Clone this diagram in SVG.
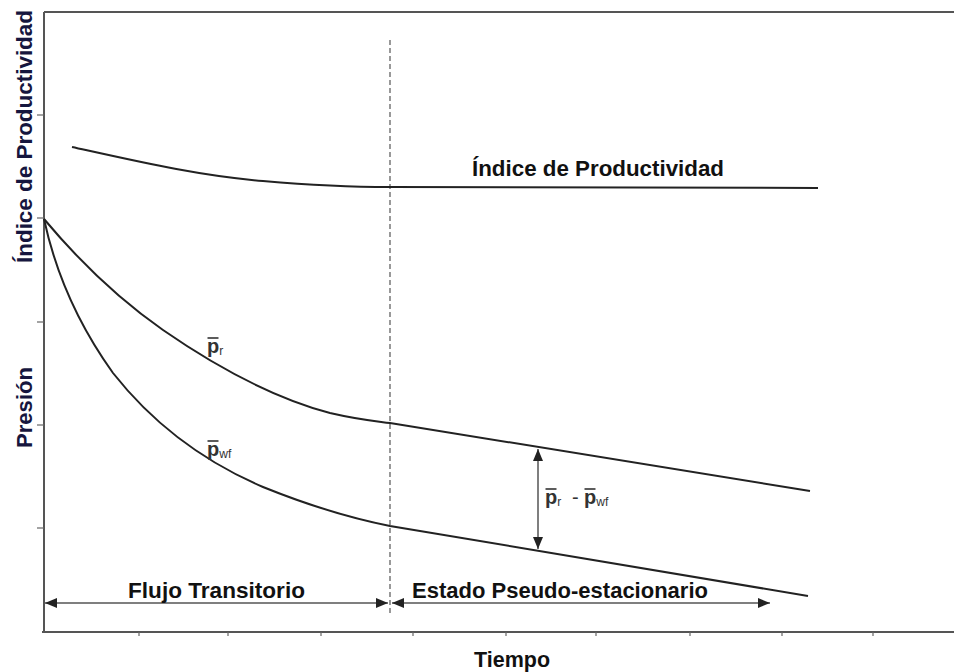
<svg xmlns="http://www.w3.org/2000/svg" width="954" height="672" viewBox="0 0 954 672">
  <style>
    .axis { stroke: #555; stroke-width: 2; fill: none; }
    .tick { stroke: #666; stroke-width: 1.2; fill: none; }
    .curve { stroke: #222; stroke-width: 2; fill: none; }
    .dash { stroke: #555; stroke-width: 1.2; stroke-dasharray: 5 3; fill: none; }
    .arr { stroke: #555; stroke-width: 1.5; fill: none; }
    .bar { stroke: #333; stroke-width: 1.6; }
    .lbl { font-family: "Liberation Sans", Arial, sans-serif; font-weight: bold; font-size: 22px; fill: #111; }
    .ylbl { font-family: "Liberation Sans", Arial, sans-serif; font-weight: bold; font-size: 22px; fill: #16163e; }
    .sym { font-family: "Liberation Sans", Arial, sans-serif; font-weight: bold; font-size: 20px; fill: #333; }
    .sub { font-weight: normal; font-size: 12px; }
  </style>
  <defs>
    <marker id="ah" viewBox="0 0 12 10" refX="12" refY="5" markerWidth="12" markerHeight="10" markerUnits="userSpaceOnUse" orient="auto-start-reverse">
      <path d="M0,0 L12,5 L0,10 Z" fill="#222"/>
    </marker>
  </defs>
  <rect width="954" height="672" fill="#fff"/>

  <g id="axes">
    <line class="axis" x1="44" y1="12" x2="954" y2="12"/>
    <line class="axis" x1="44" y1="12" x2="44" y2="632"/>
    <line class="axis" x1="42" y1="632" x2="954" y2="632"/>
    <g class="tick">
      <line x1="37" y1="115" x2="44" y2="115"/>
      <line x1="37" y1="218" x2="44" y2="218"/>
      <line x1="37" y1="322" x2="44" y2="322"/>
      <line x1="37" y1="425" x2="44" y2="425"/>
      <line x1="37" y1="528" x2="44" y2="528"/>
      <line x1="139" y1="632" x2="139" y2="636"/>
      <line x1="228" y1="632" x2="228" y2="636"/>
      <line x1="321" y1="632" x2="321" y2="636"/>
      <line x1="413" y1="632" x2="413" y2="636"/>
      <line x1="506" y1="632" x2="506" y2="636"/>
      <line x1="596" y1="632" x2="596" y2="636"/>
      <line x1="690" y1="632" x2="690" y2="636"/>
      <line x1="782" y1="632" x2="782" y2="636"/>
      <line x1="873" y1="632" x2="873" y2="636"/>
    </g>
  </g>

  <g id="divider">
    <line class="dash" x1="390" y1="40" x2="390" y2="615"/>
  </g>

  <g id="curve-productividad">
    <path class="curve" d="M72,147 C140,162 200,176 263,181 C310,185 350,187 390,187 L818,188"/>
  </g>
  <g id="curve-pr">
    <path class="curve" d="M44,219 C80,262 120,300 163,330 C215,366 270,397 330,413 C360,420 375,421 390,423 L810,491"/>
  </g>
  <g id="curve-pwf">
    <path class="curve" d="M44,219 C55,270 75,320 113,373 C150,420 200,460 263,487 C310,506 350,518 390,526 L808,596"/>
  </g>

  <g id="connectors">
    <line class="arr" x1="538" y1="449" x2="538" y2="549" stroke="#333" stroke-width="1" marker-start="url(#ah)" marker-end="url(#ah)"/>
    <line class="arr" x1="45" y1="603" x2="388" y2="603" marker-start="url(#ah)" marker-end="url(#ah)"/>
    <line class="arr" x1="392" y1="603" x2="770" y2="603" marker-start="url(#ah)" marker-end="url(#ah)"/>
  </g>

  <g id="labels">
    <text class="ylbl" transform="translate(32,136.5) rotate(-90)" text-anchor="middle" textLength="253" lengthAdjust="spacingAndGlyphs">Índice de Productividad</text>
    <text class="ylbl" transform="translate(32,407.5) rotate(-90)" text-anchor="middle" textLength="81" lengthAdjust="spacingAndGlyphs">Presión</text>
    <text class="lbl" x="472" y="176" textLength="252" lengthAdjust="spacingAndGlyphs">Índice de Productividad</text>
    <text class="lbl" x="128" y="598" textLength="177" lengthAdjust="spacingAndGlyphs">Flujo Transitorio</text>
    <text class="lbl" x="412" y="598" textLength="296" lengthAdjust="spacingAndGlyphs">Estado Pseudo-estacionario</text>
    <text class="lbl" x="474" y="667" textLength="76" lengthAdjust="spacingAndGlyphs">Tiempo</text>
  </g>

  <g id="label-pr">
    <text class="sym" x="207" y="353">p<tspan class="sub" dy="2">r</tspan></text>
    <line class="bar" x1="207.5" y1="338" x2="218.5" y2="338"/>
  </g>
  <g id="label-pwf">
    <text class="sym" x="207" y="456">p<tspan class="sub" font-size="13" dy="2">wf</tspan></text>
    <line class="bar" x1="207.5" y1="441" x2="218.5" y2="441"/>
  </g>
  <g id="label-diff">
    <text class="sym" x="545" y="504">p<tspan class="sub" dy="2">r</tspan><tspan x="572" dy="-2" font-weight="normal">-</tspan><tspan x="584">p</tspan><tspan class="sub" font-size="13" dy="2">wf</tspan></text>
    <line class="bar" x1="545.5" y1="489" x2="556.5" y2="489"/>
    <line class="bar" x1="584.5" y1="489" x2="595.5" y2="489"/>
  </g>
</svg>
